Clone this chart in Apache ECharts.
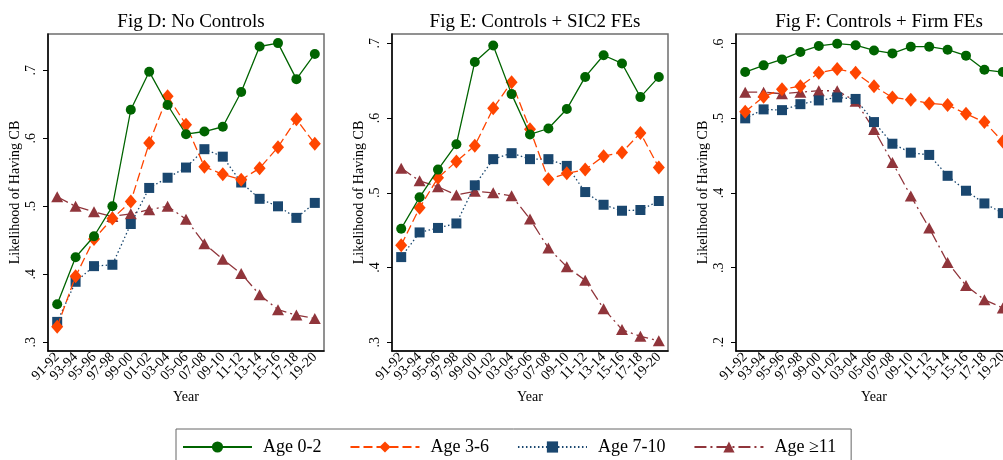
<!DOCTYPE html>
<html>
<head>
<meta charset="utf-8">
<title>Likelihood of Having CB</title>
<script src="https://cdn.jsdelivr.net/npm/echarts@6/dist/echarts.min.js"></script>
<style>
    html, body { margin: 0; padding: 0; background: #fff; }
    #main { width: 1003px; height: 460px; }
</style>
</head>
<body>
<div id="main"></div>
<script>
    var years = ['91-92', '93-94', '95-96', '97-98', '99-00', '01-02', '03-04', '05-06',
                 '07-08', '09-10', '11-12', '13-14', '15-16', '17-18', '19-20'];
    var ageNames = ['Age 0-2', 'Age 3-6', 'Age 7-10', 'Age \u226511'];
    var panelTitles = ['Fig D: No Controls', 'Fig E: Controls + SIC2 FEs', 'Fig F: Controls + Firm FEs'];

    // Fig D: No Controls
    var dAge02 = [.356, .425, .456, .500, .642, .698, .649, .606, .610, .617, .668, .735, .740, .687, .724];
    var dAge36 = [.323, .397, .452, .482, .507, .593, .662, .620, .558, .547, .539, .556, .587, .628, .592];
    var dAge710 = [.330, .389, .412, .414, .474, .527, .542, .557, .584, .573, .535, .511, .500, .483, .505];
    var dAge11 = [.514, .500, .492, .485, .489, .495, .500, .481, .445, .422, .401, .370, .348, .340, .335];

    // Fig E: Controls + SIC2 FEs
    var eAge02 = [.452, .494, .531, .565, .675, .697, .632, .578, .586, .612, .655, .684, .673, .628, .655];
    var eAge36 = [.430, .480, .520, .542, .563, .613, .648, .585, .518, .526, .531, .549, .554, .580, .534];
    var eAge710 = [.414, .447, .453, .459, .510, .545, .553, .545, .545, .536, .501, .484, .476, .477, .489];
    var eAge11 = [.533, .516, .508, .497, .502, .500, .496, .465, .426, .401, .383, .345, .317, .308, .302];

    // Fig F: Controls + Firm FEs
    var fAge02 = [.562, .571, .579, .589, .597, .600, .598, .591, .587, .596, .596, .592, .584, .565, .562];
    var fAge36 = [.509, .529, .539, .543, .561, .566, .561, .543, .528, .525, .520, .518, .506, .495, .469];
    var fAge710 = [.500, .512, .511, .519, .524, .528, .526, .495, .466, .454, .451, .423, .403, .386, .373];
    var fAge11 = [.535, .535, .533, .535, .537, .537, .523, .485, .441, .396, .353, .307, .276, .257, .246];

    var yTicksD = [.3, .4, .5, .6, .7];
    var yTicksE = [.3, .4, .5, .6, .7];
    var yTicksF = [.2, .3, .4, .5, .6];

    var font = '"Liberation Serif", "Times New Roman", serif';
    var panels = [
        { data: [dAge02, dAge36, dAge710, dAge11], ticks: yTicksD, left: 48, min: 0.2872, max: 0.7534 },
        { data: [eAge02, eAge36, eAge710, eAge11], ticks: yTicksE, left: 392, min: 0.2884, max: 0.7124 },
        { data: [fAge02, fAge36, fAge710, fAge11], ticks: yTicksF, left: 736, min: 0.1883, max: 0.613 }
    ];
    var styles = [
        { color: '#006400', type: 'solid', symbol: 'circle', size: 10 },
        { color: '#ff4500', type: [9, 4], symbol: 'diamond', size: [12, 14] },
        { color: '#1a476f', type: [1.5, 2.5], symbol: 'rect', size: 10 },
        { color: '#90353b', type: [12, 4, 2, 4], symbol: 'triangle', size: [12, 11] }
    ];

    var option = {
        animation: false,
        textStyle: { fontFamily: font, color: '#000' },
        title: [],
        grid: [],
        xAxis: [],
        yAxis: [],
        series: [],
        legend: {
            data: ageNames,
            left: 176,
            top: 429,
            padding: [9, 15, 9, 6],
            itemWidth: 69,
            itemHeight: 14,
            itemGap: 28,
            borderColor: '#666',
            borderWidth: 1,
            textStyle: { fontFamily: font, fontSize: 18, color: '#000', padding: [0, 0, 0, 6] }
        }
    };

    for (var i = 0; i < panels.length; i++) {
        var p = panels[i];
        option.title.push({
            text: panelTitles[i],
            left: p.left + 138,
            top: 8,
            textAlign: 'center',
            textStyle: { fontFamily: font, fontSize: 19, fontWeight: 'normal', color: '#000' }
        });
        option.grid.push({
            left: p.left, top: 34, width: 276, height: 317,
            outerBoundsMode: 'none',
            show: true, borderColor: '#6e6e6e', borderWidth: 1.5
        });
        option.xAxis.push({
            gridIndex: i,
            type: 'category',
            data: years,
            boundaryGap: true,
            name: 'Year',
            nameLocation: 'middle',
            nameGap: 39,
            nameTextStyle: { fontFamily: font, fontSize: 14, color: '#000' },
            axisLine: { lineStyle: { color: '#000', width: 1.5 } },
            axisTick: { alignWithLabel: true, length: 4, lineStyle: { color: '#000' } },
            axisLabel: { rotate: 45, interval: 0, margin: 4, fontSize: 14, fontFamily: font, color: '#000' },
            splitLine: { show: false }
        });
        option.yAxis.push({
            gridIndex: i,
            type: 'value',
            min: p.min,
            max: p.max,
            name: 'Likelihood of Having CB',
            nameLocation: 'middle',
            nameGap: 26,
            nameTextStyle: { fontFamily: font, fontSize: 14, color: '#000' },
            axisLine: { show: true, lineStyle: { color: '#000', width: 1.5 } },
            axisTick: { show: true, length: 5, customValues: p.ticks, lineStyle: { color: '#000' } },
            axisLabel: {
                rotate: 90, margin: 10, fontSize: 14, fontFamily: font, color: '#000',
                customValues: p.ticks,
                formatter: function (v) { return String(+v.toFixed(2)).replace(/^0/, ''); }
            },
            splitLine: { show: false }
        });
        for (var k = 0; k < 4; k++) {
            var s = styles[k];
            option.series.push({
                name: ageNames[k],
                type: 'line',
                xAxisIndex: i,
                yAxisIndex: i,
                data: p.data[k],
                symbol: s.symbol,
                symbolSize: s.size,
                showSymbol: true,
                itemStyle: { color: s.color },
                lineStyle: { color: s.color, width: 1.3, type: s.type },
                z: 10 - k
            });
        }
    }

    var chart = echarts.init(document.getElementById('main'));
    chart.setOption(option);
</script>
</body>
</html>
